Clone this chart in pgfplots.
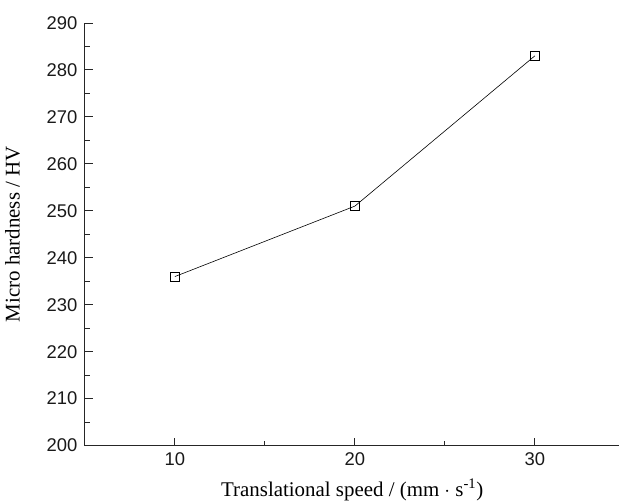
\documentclass[border=0pt]{standalone}
\usepackage{fontspec}
\setmainfont{Liberation Serif}
\newfontfamily\arialfont{Liberation Sans}
\usepackage{pgfplots}
\pgfplotsset{compat=1.18}
\begin{document}
\begin{tikzpicture}
\begin{axis}[
    scale only axis,
    width=535bp, height=423bp,
    xmin=5, xmax=34.7,
    ymin=200, ymax=290,
    axis x line*=bottom, axis y line*=left,
    axis line style={line width=1.1pt, black!85},
    xtick={10,20,30}, ytick={200,210,...,290},
    minor tick num=1,
    tick align=inside,
    major tick length=8bp, minor tick length=5bp,
    every tick/.style={line width=0.9pt, black!85},
    /pgf/number format/assume math mode=true,
    ticklabel style={font=\arialfont\fontsize{18.5}{20}\selectfont, black!90},
    xticklabel style={yshift=-4bp},
    yticklabel style={xshift=-4bp},
    xlabel={Translational speed / (mm $\cdot$ s\textsuperscript{-1})},
    ylabel={Micro hardness / HV},
    label style={font=\fontsize{21}{24}\selectfont},
    xlabel style={yshift=-6bp},
    ylabel style={yshift=20bp},
]
\addplot[black, line width=0.6pt, mark=square, mark size=4.5bp,
         mark options={fill=white, line width=0.8pt}]
  coordinates {(10,236) (20,251) (30,283)};
\end{axis}
% page margins as in the reference
\path (current axis.south west) ++(-85bp,-52bp)
  rectangle ([yshift=23bp]current axis.north east);
\end{tikzpicture}
\end{document}
